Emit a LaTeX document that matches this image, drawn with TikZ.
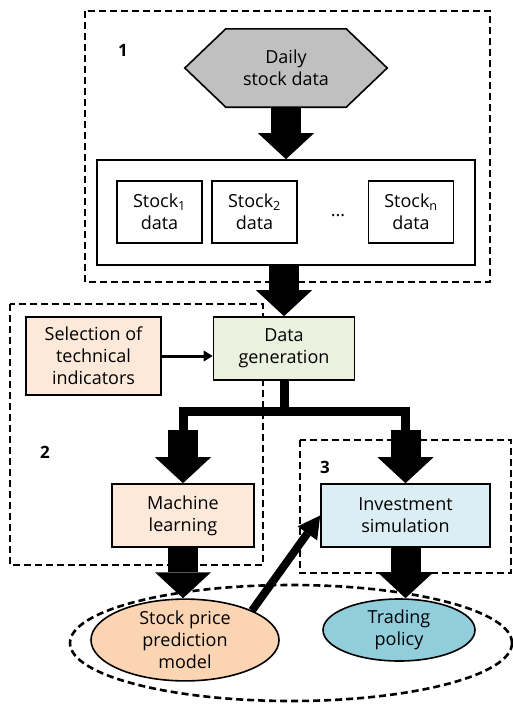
\documentclass[tikz,border=0pt]{standalone}
\usepackage{fontspec}
\setmainfont{Open Sans}
\usetikzlibrary{arrows.meta,shapes.geometric,backgrounds}
\definecolor{hexgray}{RGB}{192,192,192}
\definecolor{peach}{RGB}{253,233,217}
\definecolor{lightgreen}{RGB}{235,241,222}
\definecolor{lightblue}{RGB}{218,238,243}
\definecolor{modelorange}{RGB}{251,212,180}
\definecolor{policyblue}{RGB}{146,205,220}
\tikzset{box/.style={draw, line width=1.6pt, rectangle, align=center, inner sep=2pt},
	oval/.style={draw, line width=1.6pt, ellipse, align=center, inner sep=0pt},
	fatarrow/.style={line width=30pt, -{Triangle[width=56pt,length=26pt,line width=0pt]}},
	thinarrow/.style={line width=3pt, -{Triangle[width=11pt,length=9pt,line width=0pt]}},
	stem/.style={line width=9pt, line join=miter},
	group/.style={line width=2pt, dash pattern=on 7pt off 4pt},
	num/.style={font=\bfseries\fontsize{17}{20}\selectfont}}

\begin{document}
\begin{tikzpicture}[x=1pt,y=-1pt,font=\fontsize{18}{22}\selectfont]
		\useasboundingbox (0,0) rectangle (513,704);
		% groups
		\draw[group, line width=2.6pt] (85,11) rectangle (490,282);
		\draw[group] (10,304) rectangle (263,565);
		\draw[group] (300,440) rectangle (511,573);
		\node[num] (n1) at (123,50) {1};
		\node[num] (n2) at (45,452) {2};
		\node[num] (n3) at (325,467) {3};
		% part 1
		\node[minimum width=202pt, minimum height=78pt, align=center] (daily) at (286,68) {Daily\\stock data};
		\begin{scope}[on background layer]
		\draw[fill=hexgray, line width=1.6pt] (daily.west) -- ([xshift=41pt]daily.north west) -- ([xshift=-41pt]daily.north east) -- (daily.east) -- ([xshift=-41pt]daily.south east) -- ([xshift=41pt]daily.south west) -- cycle;
		\end{scope}
		\node[box, minimum width=378pt, minimum height=105pt] (stocks) at (286,212.5) {};
		\node[box, minimum width=85pt, minimum height=62pt] (s1) at (159.5,212) {Stock\textsubscript{1}\\data};
		\node[box, minimum width=85pt, minimum height=62pt] (s2) at (254.5,212) {Stock\textsubscript{2}\\data};
		\node (dots) at (338,216) {...};
		\node[box, minimum width=85pt, minimum height=62pt] (sn) at (411,212) {Stock\textsubscript{n}\\data};
		\draw[fatarrow] (daily.south) -- (stocks.north);
		% part 2
		\node[box, fill=lightgreen, minimum width=141pt, minimum height=63pt] (dg) at (284,348.5) {Data\\generation};
		\node[box, fill=peach, minimum width=135pt, minimum height=78pt] (sel) at (93.5,356) {Selection of\\technical\\indicators};
		\draw[fatarrow] (stocks.south -| dg.north) -- (dg.north);
		\draw[thinarrow] (sel.east) -- (sel.east -| dg.west);
		\node[box, fill=peach, minimum width=142pt, minimum height=63pt] (ml) at (183,515.5) {Machine\\learning};
		\node[box, fill=lightblue, minimum width=169pt, minimum height=63pt] (inv) at (405.5,515.5) {Investment\\simulation};
		\coordinate (fork) at (284,411);
		\draw[stem] (dg.south) -- (fork);
		\draw[stem] ([yshift=-20pt]ml.north |- fork) -- (ml.north |- fork) -- (inv.north |- fork) -- ([yshift=-20pt]inv.north |- fork);
		\draw[fatarrow] ([yshift=-19pt]ml.north |- fork) -- (ml.north);
		\draw[fatarrow] ([yshift=-19pt]inv.north |- fork) -- (inv.north);
		% results
		\node[draw, ellipse, group, line width=2.6pt, minimum width=442pt, minimum height=116pt] (results) at (291,643) {};
		\node[oval, fill=modelorange, minimum width=188pt, minimum height=80pt] (model) at (185,640) {Stock price\\prediction\\model};
		\node[oval, fill=policyblue, minimum width=152pt, minimum height=62pt] (policy) at (399,630) {Trading\\policy};
		\draw[fatarrow] (ml.south) -- (ml.south |- model.north);
		\draw[fatarrow] (inv.south) -- (inv.south |- policy.north);
		\draw[line width=8pt, -{Triangle[width=24pt,length=22pt,line width=0pt]}] (model.north east) -- (inv.west);
\end{tikzpicture}
\end{document}
